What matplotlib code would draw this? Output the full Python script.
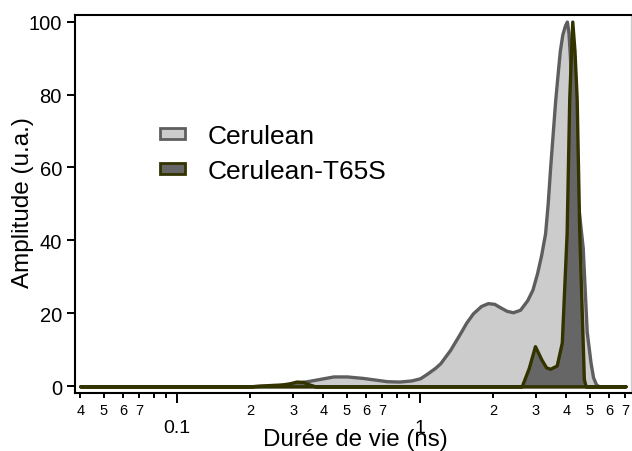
import matplotlib
matplotlib.use("Agg")
import matplotlib.pyplot as plt

plt.rcParams['font.family'] = ['Liberation Sans', 'DejaVu Sans']

# lifetime distributions (ns, normalised amplitude)
t_cer = [0.04, 0.2, 0.26, 0.3, 0.35, 0.4, 0.44, 0.5, 0.58, 0.66, 0.73, 0.82,
         0.92, 1.0, 1.07, 1.15, 1.21, 1.33, 1.46, 1.55, 1.65, 1.78, 1.9, 2.02,
         2.13, 2.27, 2.41, 2.58, 2.76, 2.9, 3.03, 3.15, 3.27, 3.35, 3.43, 3.52,
         3.6, 3.68, 3.76, 3.85, 3.95, 4.02, 4.08, 4.14, 4.26, 4.4, 4.55, 4.67,
         4.85, 5.03, 5.15, 5.3, 5.45, 7.0]
a_cer = [0, 0, 0.3, 0.8, 1.5, 2.2, 2.7, 2.7, 2.3, 1.8, 1.4, 1.3,
         1.6, 2.2, 3.5, 5.0, 6.3, 10, 14.5, 17.5, 20, 22, 22.8, 22.6,
         21.7, 20.7, 20.3, 21, 23.6, 26.5, 31, 36, 42, 50, 60, 70,
         78.6, 85.5, 92, 96.5, 99, 100, 97, 90, 70, 54, 45, 38,
         15, 6.5, 2.5, 0.5, 0, 0]

t_t65s = [0.04, 0.2, 0.22, 0.25, 0.27, 0.29, 0.31, 0.33, 0.35, 0.37,
          2.62, 2.8, 2.97, 3.16, 3.3, 3.43, 3.65, 3.83, 4.01, 4.11, 4.23,
          4.32, 4.41, 4.52, 4.67, 4.72, 4.8, 7.0]
a_t65s = [0, 0, 0.2, 0.4, 0.5, 0.8, 1.3, 1.2, 0.5, 0,
          0, 5, 11, 7.3, 5.2, 4.8, 5.7, 12, 42, 79, 100,
          92, 79, 42, 12, 2, 0, 0]

minor_pos = [0.04, 0.05, 0.06, 0.07, 0.08, 0.09,
             0.2, 0.3, 0.4, 0.5, 0.6, 0.7, 0.8, 0.9,
             2, 3, 4, 5, 6, 7]
minor_lbl = ['4', '5', '6', '7', '', '',
             '2', '3', '4', '5', '6', '7', '', '',
             '2', '3', '4', '5', '6', '7']

fig = plt.figure(figsize=(6.32, 4.52), dpi=100)
ax = fig.add_axes([75 / 632, 1 - 393.5 / 452, 556 / 632, 377.5 / 452])

ax.fill_between(t_cer, a_cer, 0, facecolor='#cccccc', edgecolor='#5e5e5e',
                linewidth=2.4, joinstyle='round', label='Cerulean')
ax.fill_between(t_t65s, a_t65s, 0, facecolor='#666666', edgecolor='#333300',
                linewidth=2.4, joinstyle='round', label='Cerulean-T65S')

ax.set_xscale('log')
ax.set_xlim(0.038, 7.38)
ax.set_ylim(-1.7, 101.8)

ax.set_xticks([0.1, 1], ['0.1', '1'])
ax.set_xticks(minor_pos, minor_lbl, minor=True)
ax.set_yticks([0, 20, 40, 60, 80, 100])

ax.tick_params(axis='x', which='major', length=7.2, width=1.4, pad=12, labelsize=14)
ax.tick_params(axis='x', which='minor', length=3.6, width=1.4, pad=4, labelsize=10.5)
ax.tick_params(axis='y', length=5.8, width=1.4, pad=3.6, labelsize=14.5)

for side in ['left', 'bottom', 'top']:
    ax.spines[side].set_linewidth(1.5)
ax.spines['right'].set_color('#cccccc')
ax.spines['right'].set_linewidth(1.0)

ax.set_xlabel('Durée de vie (ns)', fontsize=17.4)
ax.xaxis.set_label_coords(0.504, -0.094)
ax.set_ylabel('Amplitude (u.a.)', fontsize=17.5)
ax.yaxis.set_label_coords(-0.073, 0.507)

leg = ax.legend(loc='upper left', bbox_to_anchor=(160 / 632, 1 - 125 / 452),
                bbox_transform=fig.transFigure, frameon=False, fontsize=19,
                borderpad=0, borderaxespad=0, handlelength=0.95,
                handleheight=0.25, handletextpad=0.85, labelspacing=0.42)
for h in leg.legend_handles:
    h.set_linewidth(2.0)

fig.savefig('out.png', dpi=100)
